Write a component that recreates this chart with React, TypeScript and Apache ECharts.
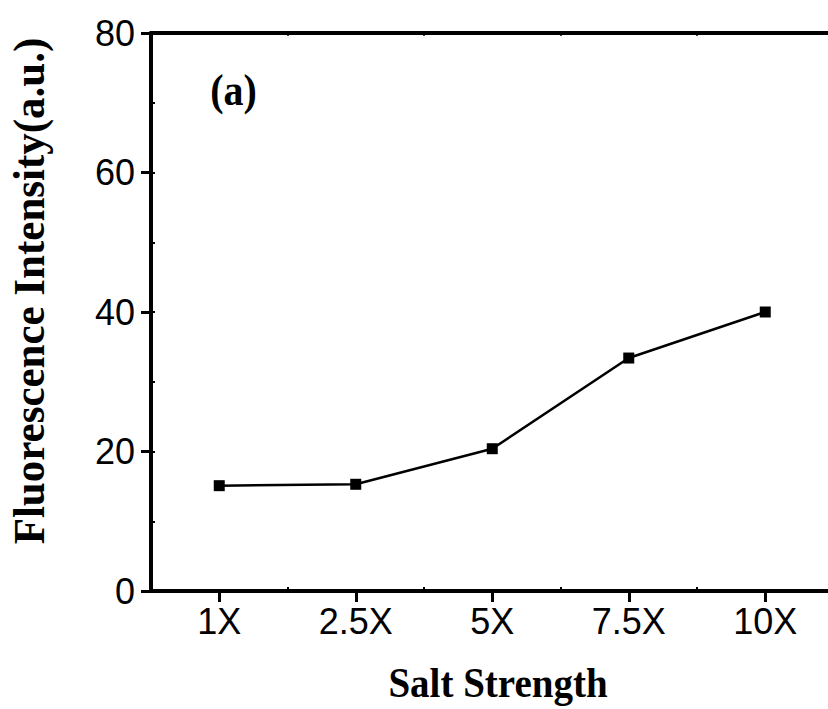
import React, { useEffect, useRef } from "react";
import * as echarts from "echarts";

// Salt strength levels and measured fluorescence
const saltLevels = ["1X", "2.5X", "5X", "7.5X", "10X"];
const intensity = [15.1, 15.3, 20.4, 33.4, 40.0];
const yTicks = { min: 0, max: 80, interval: 20 };

const SANS = "'Liberation Sans', Arial, sans-serif";
const SERIF = "'Liberation Serif', 'Times New Roman', serif";

export default function App() {
  const ref = useRef<HTMLDivElement>(null);

  useEffect(() => {
    if (!ref.current) return;
    const chart = echarts.init(ref.current, null, { renderer: "svg" });
    const axisLine = { show: true, lineStyle: { color: "#000", width: 4 } };
    chart.setOption({
      animation: false,
      backgroundColor: "#fff",
      grid: { left: 151, top: 33, right: 6.5, bottom: 118, containLabel: false },
      xAxis: [
        {
          type: "category",
          data: saltLevels,
          position: "bottom",
          boundaryGap: true,
          axisLine,
          axisTick: {
            show: true,
            alignWithLabel: true,
            length: 11,
            lineStyle: { color: "#000", width: 3 },
          },
          axisLabel: {
            color: "#000",
            fontFamily: SANS,
            fontSize: 36,
            margin: 12,
          },
          splitLine: { show: false },
        },
        {
          // boundary ticks pointing into the plot
          type: "category",
          data: saltLevels,
          position: "bottom",
          boundaryGap: true,
          axisLine: { show: false },
          axisTick: { show: true, inside: true, length: 4, lineStyle: { color: "#000", width: 2 } },
          axisLabel: { show: false },
          splitLine: { show: false },
        },
        {
          // top frame line
          type: "category",
          data: saltLevels,
          position: "top",
          boundaryGap: true,
          axisLine,
          axisTick: { show: true, inside: true, length: 3, lineStyle: { color: "#000", width: 1.5 } },
          axisLabel: { show: false },
          splitLine: { show: false },
        },
      ],
      yAxis: [
        {
          type: "value",
          min: yTicks.min,
          max: yTicks.max,
          interval: yTicks.interval,
          position: "left",
          axisLine,
          axisTick: { show: true, length: 10, lineStyle: { color: "#000", width: 3 } },
          axisLabel: {
            color: "#000",
            fontFamily: SANS,
            fontSize: 36,
            margin: 16,
          },
          splitLine: { show: false },
        },
        {
          // minor ticks pointing into the plot
          type: "value",
          min: yTicks.min,
          max: yTicks.max,
          interval: yTicks.interval / 2,
          position: "left",
          axisLine: { show: false },
          axisTick: { show: true, inside: true, length: 4, lineStyle: { color: "#000", width: 2 } },
          axisLabel: { show: false },
          splitLine: { show: false },
        },
      ],
      series: [
        {
          type: "line",
          data: intensity,
          xAxisIndex: 0,
          yAxisIndex: 0,
          symbol: "rect",
          symbolSize: 11,
          itemStyle: { color: "#000" },
          lineStyle: { color: "#000", width: 2.5 },
        },
      ],
      graphic: [
        {
          type: "text",
          x: 498,
          y: 683,
          scaleY: 1.08,
          style: {
            text: "Salt Strength",
            fill: "#000",
            font: `bold 39px ${SERIF}`,
            textAlign: "center",
            textVerticalAlign: "middle",
          },
        },
        {
          type: "text",
          x: 29,
          y: 291,
          rotation: Math.PI / 2,
          scaleY: 1.05,
          style: {
            text: "Fluorescence Intensity(a.u.)",
            fill: "#000",
            font: `bold 43px ${SERIF}`,
            textAlign: "center",
            textVerticalAlign: "middle",
          },
        },
        {
          type: "text",
          x: 233.5,
          y: 90,
          scaleY: 1.12,
          style: {
            text: "(a)",
            fill: "#000",
            font: `bold 40px ${SERIF}`,
            textAlign: "center",
            textVerticalAlign: "middle",
          },
        },
      ],
    });
    return () => chart.dispose();
  }, []);

  return (
    <div
      style={{
        position: "fixed",
        left: 0,
        top: 0,
        width: 828,
        height: 709,
        overflow: "hidden",
        background: "#fff",
      }}
    >
      <div ref={ref} style={{ width: 840, height: 709 }} />
    </div>
  );
}
